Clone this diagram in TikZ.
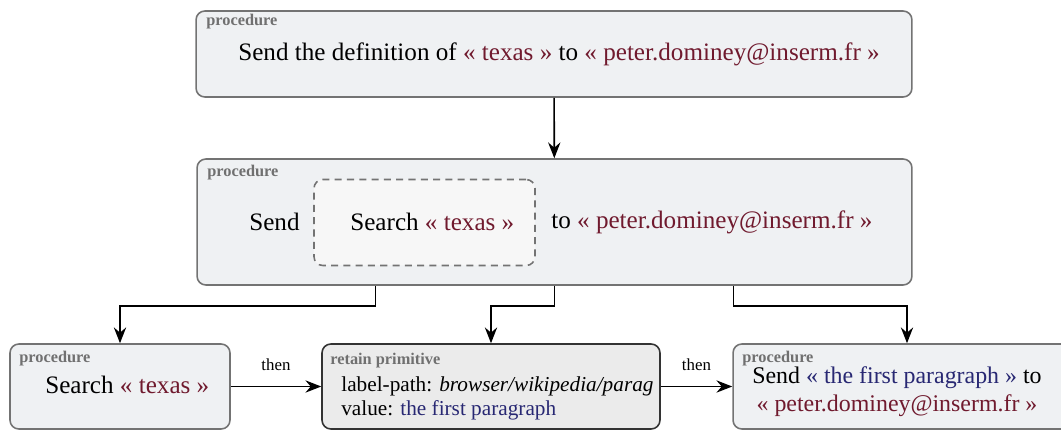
\documentclass[tikz,border=0pt]{standalone}
\usepackage{fontspec}
\setmainfont{Liberation Serif}
\usetikzlibrary{arrows.meta}
\definecolor{valred}{RGB}{112,26,46}
\definecolor{valblue}{RGB}{40,40,115}
\definecolor{boxfill}{RGB}{239,241,243}
\definecolor{boxline}{RGB}{115,115,115}
\definecolor{tagcol}{RGB}{112,112,112}
\newcommand{\val}[1]{\textcolor{valred}{#1}}
\newcommand{\res}[1]{\textcolor{valblue}{#1}}
\tikzset{
  proc/.style={draw=boxline,fill=boxfill,rounded corners=5pt,line width=0.9pt,inner sep=0pt},
  prim/.style={proc,draw=black!80,fill=black!8},
  hole/.style={draw=boxline,dash pattern=on 4pt off 3pt,fill=black!3,rounded corners=5pt,line width=0.9pt,inner sep=0pt},
  tag/.style={anchor=west,inner sep=0pt,text=tagcol,font=\fontsize{9.3}{11}\selectfont\bfseries},
  txt/.style={anchor=west,inner sep=0pt,font=\fontsize{14.3}{17}\selectfont},
  arr/.style={-{Stealth[length=9pt,width=7pt,inset=3pt]},line width=0.9pt},
  then/.style={font=\fontsize{9.6}{11}\selectfont,above=5pt}
}

\begin{document}
\begin{tikzpicture}[x=0.02cm,y=-0.02cm]
\useasboundingbox (0,0) rectangle (1061,430);
\node[proc,minimum width=14.32cm,minimum height=1.72cm] (def) at (554,54) {};
\node[tag] (deftag) at (206,22) {procedure};
\node[txt] (deftxt) at (238,54) {Send the definition of \val{«~texas~»} to \val{«~peter.dominey@inserm.fr~»}};

\node[proc,minimum width=14.3cm,minimum height=2.52cm] (send) at (554.5,222) {};
\node[tag] (sendtag) at (207,173) {procedure};
\node[txt] (sendverb) at (249,222) {Send};
\node[hole,minimum width=4.42cm,minimum height=1.72cm] (slot) at (424.5,222.5) {};
\node[txt] (slottxt) at (350,222) {Search \val{«~texas~»}};
\node[txt] (sendto) at (551,222) {to \val{«~peter.dominey@inserm.fr~»}};

\node[proc,minimum width=4.4cm,minimum height=1.7cm] (search) at (120,386.5) {};
\node[tag] (searchtag) at (19,359) {procedure};
\node[txt] (searchtxt) at (45,385) {Search \val{«~texas~»}};

\node[prim,minimum width=6.76cm,minimum height=1.7cm] (retain) at (491,386.5) {};
\node[tag] (retaintag) at (330,361) {retain primitive};
\node[txt,font=\fontsize{12.1}{15}\selectfont] (retainpath) at (341,386) {label-path: \textit{browser/wikipedia/parag}};
\node[txt,font=\fontsize{12.1}{15}\selectfont] (retainval) at (341,410) {value: \res{the first paragraph}};

\node[proc,minimum width=6.96cm,minimum height=1.7cm] (mail) at (907,386.5) {};
\node[tag] (mailtag) at (742,359) {procedure};
\node[inner sep=0pt,align=center,font=\fontsize{13.6}{16}\selectfont] (mailtxt) at (897,392) {Send \res{«~the first paragraph~»} to\\ \val{«~peter.dominey@inserm.fr~»}};

\draw[arr] (def) -- (send);
\draw[arr] ([xshift=-3.58cm]send.south) -- ++(0,20) -| (search.north);
\draw[arr] (send.south) -- ++(0,20) -| (retain.north);
\draw[arr] ([xshift=3.58cm]send.south) -- ++(0,20) -| (mail.north);
\draw[arr] (search) -- (retain) node[then,midway] {then};
\draw[arr] (retain) -- (mail) node[then,midway] {then};
\end{tikzpicture}
\end{document}
